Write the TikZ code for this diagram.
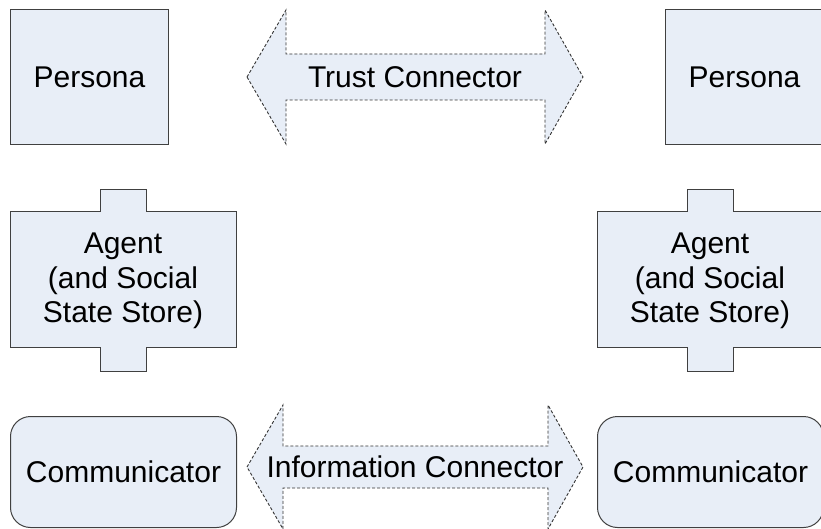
\documentclass[tikz,border=0pt]{standalone}
\usepackage{fontspec}
\setmainfont{Liberation Sans}
\definecolor{boxfill}{HTML}{E8EEF7}
\definecolor{boxline}{HTML}{404040}
\begin{document}
\begin{tikzpicture}[x=1pt,y=-1pt,
  font=\fontsize{30}{34.5}\selectfont,
  box/.style={draw=boxline, fill=boxfill, line width=1pt},
  conn/.style={draw=boxline!80!black, fill=boxfill, dash pattern=on 3pt off 2pt, line width=0.9pt},
  lbl/.style={align=center, inner sep=0pt}]
\useasboundingbox (0,0) rectangle (821,529);

% Personas
\node[box, minimum width=158pt, minimum height=135pt, anchor=north west] (persL) at (10,9) {Persona};
\node[box, minimum width=158pt, minimum height=135pt, anchor=north west] (persR) at (665,9) {Persona};

% Agents
\path[box] (10,212) -- (100,212) -- (100,190) -- (146,190) -- (146,212) -- (236,212)
  -- (236,347) -- (146,347) -- (146,371) -- (100,371) -- (100,347) -- (10,347) -- cycle;
\node[lbl] (agentL) at (123,281) {Agent\\(and Social\\State Store)};
\path[box] (597,212) -- (687,212) -- (687,190) -- (733,190) -- (733,212) -- (823,212)
  -- (823,347) -- (733,347) -- (733,371) -- (687,371) -- (687,347) -- (597,347) -- cycle;
\node[lbl] (agentR) at (710,281) {Agent\\(and Social\\State Store)};

% Communicators
\node[box, rounded corners=20pt, minimum width=226pt, minimum height=111pt, anchor=north west] (commL) at (10,416) {Communicator};
\node[box, rounded corners=20pt, minimum width=226pt, minimum height=111pt, anchor=north west] (commR) at (597,416) {Communicator};

% Trust connector
\path[conn] (247,77) -- (286,10) -- (286,54) -- (545,54) -- (545,10) -- (583,77)
  -- (545,144) -- (545,100) -- (286,100) -- (286,144) -- cycle;
\node[lbl] (trust) at (415,77) {Trust Connector};

% Information connector
\path[conn] (247,467) -- (283,405) -- (283,446) -- (548,446) -- (548,405) -- (583,467)
  -- (548,529) -- (548,488) -- (283,488) -- (283,529) -- cycle;
\node[lbl] (info) at (415,467) {Information Connector};
\end{tikzpicture}
\end{document}
